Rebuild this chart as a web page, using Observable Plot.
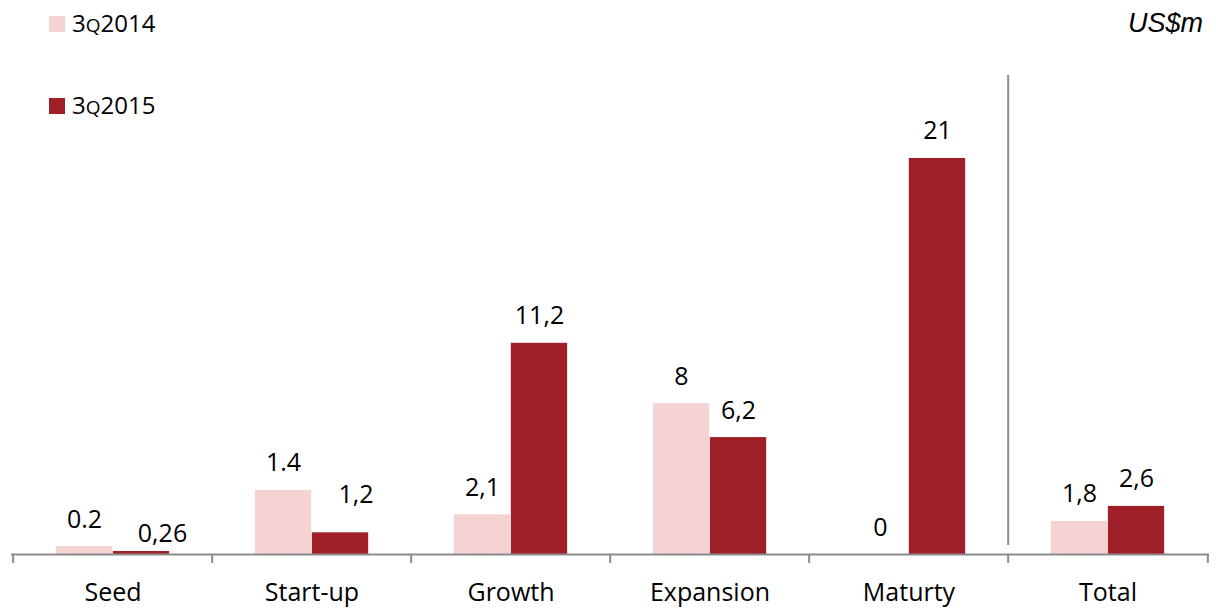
<!DOCTYPE html>
<html><head><meta charset="utf-8">
<script src="https://cdn.jsdelivr.net/npm/d3@7"></script>
<script src="https://cdn.jsdelivr.net/npm/@observablehq/plot@0.6"></script>
<style>
body{margin:0;background:#fff;}
#wrap{position:relative;width:1216px;height:608px;overflow:hidden;}
#wrap svg{display:block;}
.sw{position:absolute;left:49px;width:16px;height:16px;}
.lt{position:absolute;left:72px;font-family:"Open Sans",sans-serif;font-size:24px;line-height:24px;color:#000;white-space:nowrap;}
.lt .q{font-size:19px;}
#unit{position:absolute;right:13px;top:10px;font-family:"Liberation Sans",Arial,sans-serif;font-style:italic;font-size:27px;line-height:27px;color:#000;}
</style></head><body><div id="wrap"></div>
<script>
const categories = ["Seed", "Start-up", "Growth", "Expansion", "Maturty", "Total"];
const series = ["3Q2014", "3Q2015"];
const values2014 = [0.42, 3.4, 2.1, 8, 0, 1.75];
const values2015 = [0.16, 1.15, 11.2, 6.2, 21, 2.55];
const labels2014 = ["0.2", "1.4", "2,1", "8", "0", "1,8"];
const labels2015 = ["0,26", "1,2", "11,2", "6,2", "21", "2,6"];
const colors = ["#F5D3D3", "#9E1F27"];
const unitLabel = "US$m";

const rows2014 = categories.map((c, i) => ({category: c, series: series[0], value: values2014[i], label: labels2014[i]}));
const rows2015 = categories.map((c, i) => ({category: c, series: series[1], value: values2015[i], label: labels2015[i]}));

const W = 1216, H = 608, mL = 11, mR = 7;
const bw = (W - mL - mR) / categories.length;
const barW = 57;
const outer = bw / 2 - barW;
const gray = "#8c8c8c";
const font = "Open Sans";
const fs = 25;

// label placement tweaks for crowded small bars (as in the original)
const darkDx = {"Seed": 21, "Start-up": 15.5};
const darkDy = {"Seed": -9, "Start-up": -30};

const chart = Plot.plot({
  width: W, height: H,
  marginLeft: mL, marginRight: mR, marginTop: 75, marginBottom: 54,
  x: {type: "band", domain: categories, padding: 0, axis: null},
  y: {domain: [0, 25.4], axis: null},
  style: {fontFamily: font, background: "#fff"},
  marks: [
    Plot.barY(rows2014, {x: "category", y: "value", fill: colors[0], insetLeft: outer, insetRight: bw / 2}),
    Plot.barY(rows2015, {x: "category", y: "value", fill: colors[1], insetLeft: bw / 2, insetRight: outer}),
    Plot.ruleY([0], {stroke: gray, strokeWidth: 2}),
    Plot.axisX(categories, {tickSize: 9, dx: -bw / 2, stroke: gray, strokeWidth: 2, tickFormat: () => "", label: null}),
    Plot.axisX(["Total"], {tickSize: 9, dx: bw / 2, stroke: gray, strokeWidth: 2, tickFormat: () => "", label: null}),
    Plot.ruleX(["Total"], {x: d => d, dx: -bw / 2, insetBottom: 9, stroke: gray, strokeWidth: 2}),
    Plot.text(categories, {x: d => d, frameAnchor: "bottom", dy: 46, lineAnchor: "bottom", fontSize: fs, fill: "#000", fontFamily: font}),
    Plot.text(rows2014, {x: "category", y: "value", text: "label", dx: -barW / 2, lineAnchor: "bottom", dy: -19, fontSize: fs, fill: "#000", fontFamily: font}),
    Plot.text(rows2015.filter(d => !(d.category in darkDx)), {x: "category", y: "value", text: "label", dx: barW / 2, lineAnchor: "bottom", dy: -19, fontSize: fs, fill: "#000", fontFamily: font}),
    Plot.text(rows2015.filter(d => d.category === "Seed"), {x: "category", y: "value", text: "label", dx: barW / 2 + darkDx["Seed"], lineAnchor: "bottom", dy: darkDy["Seed"], fontSize: fs, fill: "#000", fontFamily: font}),
    Plot.text(rows2015.filter(d => d.category === "Start-up"), {x: "category", y: "value", text: "label", dx: barW / 2 + darkDx["Start-up"], lineAnchor: "bottom", dy: darkDy["Start-up"], fontSize: fs, fill: "#000", fontFamily: font})
  ]
});

const wrap = document.getElementById("wrap");
wrap.appendChild(chart);

// legend
series.forEach((s, i) => {
  const top = 16 + i * 82;
  const sw = document.createElement("div");
  sw.className = "sw";
  sw.style.top = top + "px";
  sw.style.background = colors[i];
  wrap.appendChild(sw);
  const t = document.createElement("div");
  t.className = "lt";
  t.style.top = (top - 5.3) + "px";
  const m = s.match(/^(\d)Q(\d+)$/);
  t.innerHTML = m ? `${m[1]}<span class="q">Q</span>${m[2]}` : s;
  wrap.appendChild(t);
});
const u = document.createElement("div");
u.id = "unit";
u.textContent = unitLabel;
wrap.appendChild(u);
</script>
</body></html>
